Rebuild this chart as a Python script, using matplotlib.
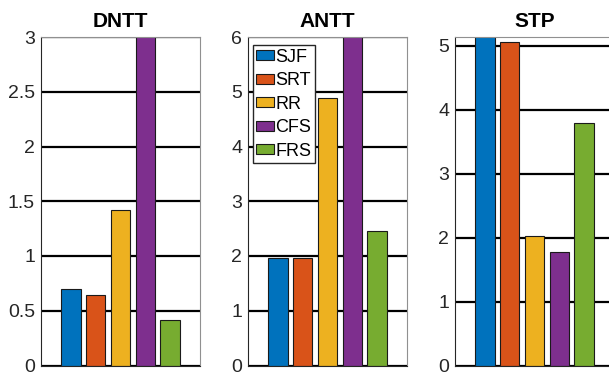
import numpy as np
import matplotlib.pyplot as plt

plt.rcParams['font.family'] = ['Liberation Sans', 'DejaVu Sans']

labels = ['SJF', 'SRT', 'RR', 'CFS', 'FRS']
colors = ['#0072BD', '#D95319', '#EDB120', '#7E2F8E', '#77AC30']

titles = ['DNTT', 'ANTT', 'STP']
dntt = [0.70, 0.64, 1.42, 3.3, 0.42]
antt = [1.96, 1.96, 4.88, 6.6, 2.45]
stp = [5.2, 5.06, 2.02, 1.78, 3.79]
ylims = [3, 6, 5.14]
yticks = [[0, 0.5, 1, 1.5, 2, 2.5, 3], [0, 1, 2, 3, 4, 5, 6], [0, 1, 2, 3, 4, 5]]
ytlabels = [['0', '0.5', '1', '1.5', '2', '2.5', '3'],
            ['0', '1', '2', '3', '4', '5', '6'],
            ['0', '1', '2', '3', '4', '5']]

W, H = 609, 373
fig = plt.figure(figsize=(W/100, H/100), dpi=100)

lefts = [41, 248, 455]
x = np.arange(1, 6)
for k, vals in enumerate([dntt, antt, stp]):
    ax = fig.add_axes([lefts[k]/W, 7.5/H, 159/W, 328.5/H])
    bars = ax.bar(x, vals, width=0.78, color=colors, edgecolor='#1a1a1a', linewidth=0.8)
    ax.set_xlim(-0.22, 6.22)
    ax.set_ylim(0, ylims[k])
    ax.set_yticks(yticks[k])
    ax.set_yticklabels(ytlabels[k])
    ax.set_xticks([])
    ax.set_axisbelow(True)
    ax.yaxis.grid(True, color='black', linewidth=1.6)
    ax.tick_params(axis='y', direction='in', length=0, labelsize=14, labelcolor='#262626', pad=4.3)
    ax.spines['left'].set_color('#262626')
    ax.spines['bottom'].set_color('#262626')
    ax.spines['top'].set_color('#909090')
    ax.spines['right'].set_color('#909090')
    for s in ax.spines.values():
        s.set_linewidth(0.8)
    ax.set_title(titles[k], fontsize=15, fontweight='bold', pad=7.5)
    if k == 1:
        ax.legend(bars, labels, loc='upper left', bbox_to_anchor=(4.7/159, 1 - 8/328.5),
                  borderaxespad=0, fontsize=13, frameon=True, fancybox=False,
                  edgecolor='#262626', framealpha=1, handlelength=1.0, handleheight=0.45,
                  handletextpad=0.05, labelspacing=0.36, borderpad=0.2)

fig.savefig('out.png', dpi=100)
